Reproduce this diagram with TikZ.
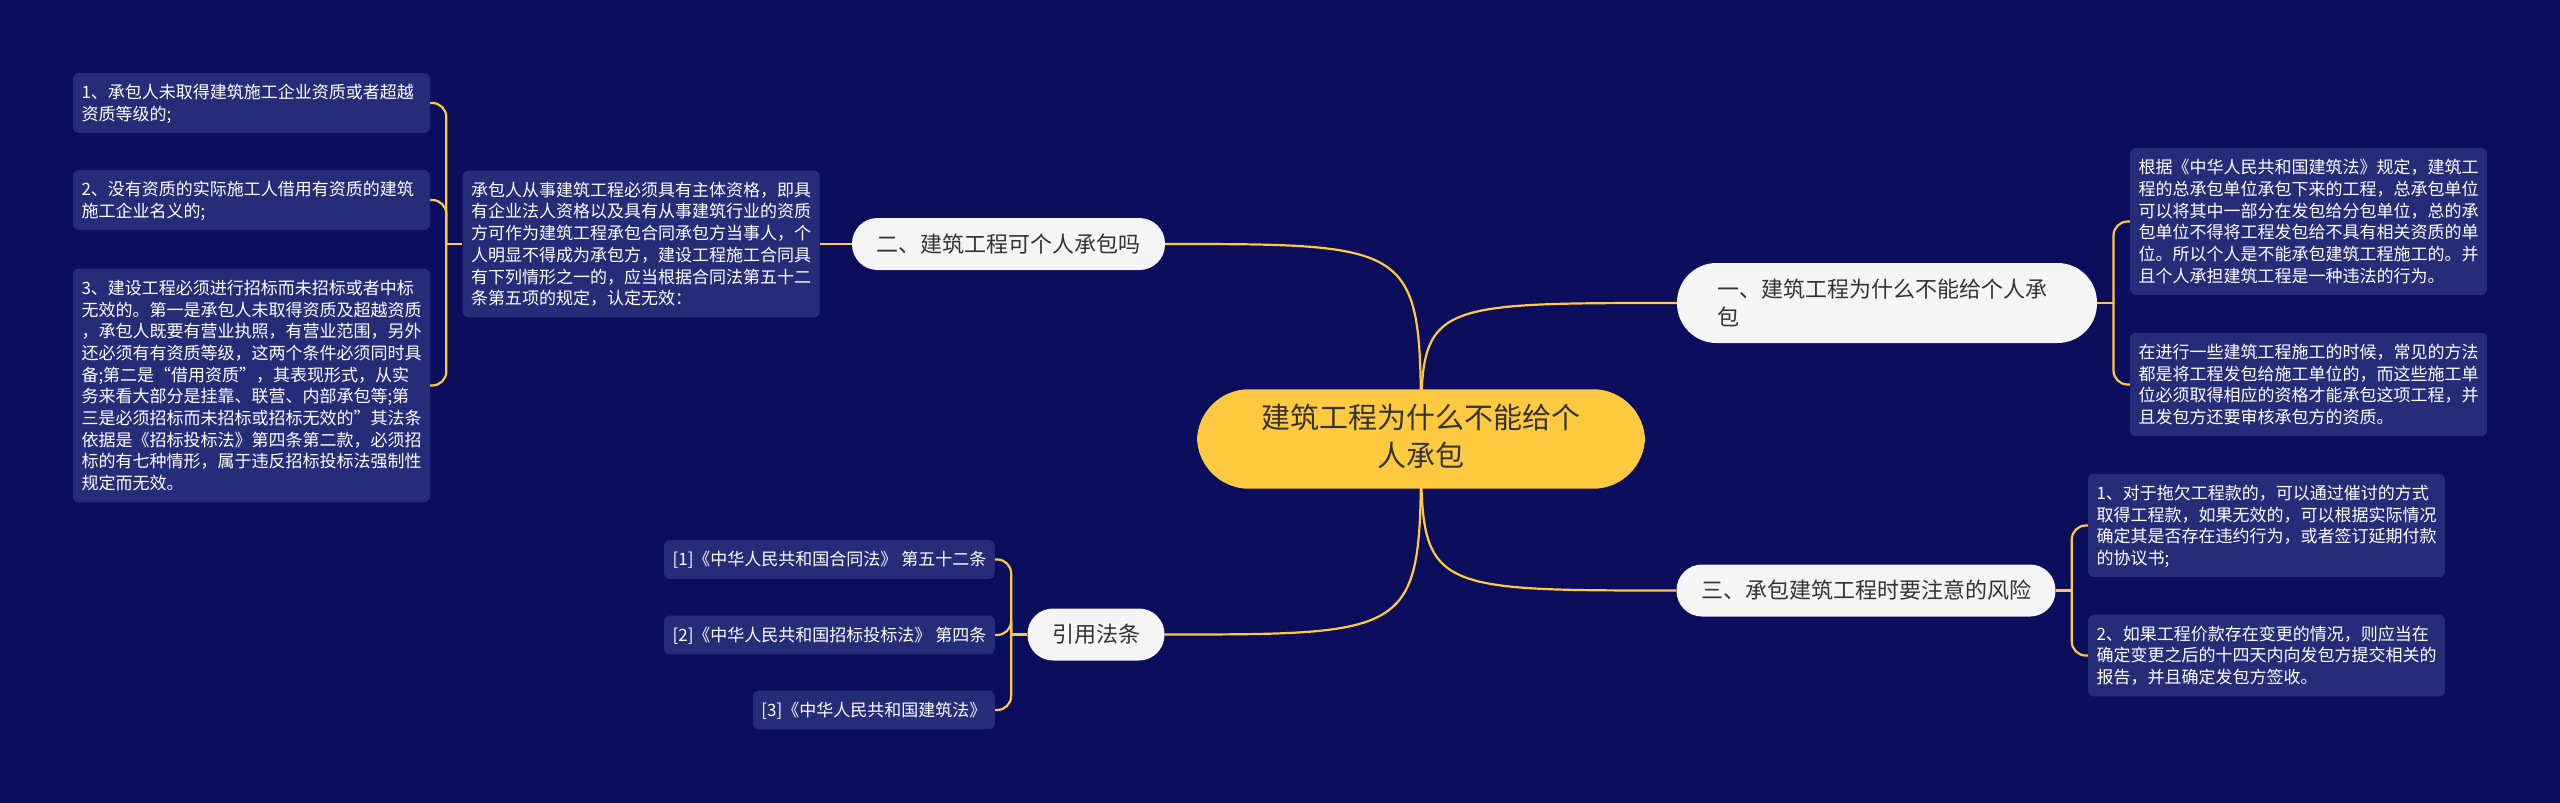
\documentclass[tikz,border=0pt]{standalone}
\usepackage{fontspec}
\setmainfont{Noto Sans CJK SC}
\usetikzlibrary{positioning, calc, backgrounds}
\definecolor{navy}{HTML}{0B0E5C}
\definecolor{leafbg}{HTML}{262D78}
\definecolor{gold}{HTML}{FFC940}
\definecolor{ink}{HTML}{333333}
\definecolor{paper}{HTML}{F5F5F5}
\newcommand\emstrut{\vrule height \dimexpr(\baselineskip+0.76em)/2\relax
  depth \dimexpr(\baselineskip-0.76em)/2\relax width 0pt}

\begin{document}
\begin{tikzpicture}[x=1pt, y=-1pt,
  every node/.style={inner sep=0pt, execute at begin node=\emstrut, execute at end node=\emstrut},
  root/.style={fill=gold, text=ink, rounded corners=52pt, align=center,
               font=\fontsize{29}{38}\selectfont, inner xsep=64.5pt, inner ysep=14.5pt},
  topic/.style={fill=paper, text=ink, rounded corners=25.5pt, align=left,
                font=\fontsize{22}{28}\selectfont, inner xsep=24.5pt, inner ysep=12pt},
  leaf/.style={fill=leafbg, text=white, rounded corners=6pt, align=left,
               text width=340pt, font=\fontsize{17}{21.7}\selectfont,
               inner xsep=8.5pt, inner ysep=8.3pt},
  cite/.style={fill=leafbg, text=white, rounded corners=6pt, anchor=east,
               font=\fontsize{17}{21.7}\selectfont, inner xsep=8.5pt, inner ysep=8.6pt},
  link/.style={gold, line width=2.2pt},
  branch/.style={link, rounded corners=14pt}]

\node[root] (root) at (1421,439) {建筑工程为什么不能给个\\人承包};

\node[topic, text width=340pt, inner xsep=40pt, rounded corners=39.5pt] (one) at (1887,303)
  {一、建筑工程为什么不能给个人承\\包};
\node[topic] (two) at (1008.5,244) {二、建筑工程可个人承包吗};
\node[topic] (three) at (1866,590.5) {三、承包建筑工程时要注意的风险};
\node[topic] (laws) at (1096,634.5) {引用法条};

\node[leaf, left=32pt of two] (mid)
  {承包人从事建筑工程必须具有主体资格，即具\\
   有企业法人资格以及具有从事建筑行业的资质\\
   方可作为建筑工程承包合同承包方当事人，个\\
   人明显不得成为承包方，建设工程施工合同具\\
   有下列情形之一的，应当根据合同法第五十二\\
   条第五项的规定，认定无效：};

\node[leaf] (l1) at (251.5,103)
  {1、承包人未取得建筑施工企业资质或者超越\\资质等级的;};
\node[leaf] (l2) at (251.5,200)
  {2、没有资质的实际施工人借用有资质的建筑\\施工企业名义的;};
\node[leaf] (l3) at (251.5,385.5)
  {3、建设工程必须进行招标而未招标或者中标\\
   无效的。第一是承包人未取得资质及超越资质\\
   ，承包人既要有营业执照，有营业范围，另外\\
   还必须有有资质等级，这两个条件必须同时具\\
   备;第二是“借用资质”，其表现形式，从实\\
   务来看大部分是挂靠、联营、内部承包等;第\\
   三是必须招标而未招标或招标无效的”其法条\\
   依据是《招标投标法》第四条第二款，必须招\\
   标的有七种情形，属于违反招标投标法强制性\\
   规定而无效。};

\node[leaf] (r1) at (2308.5,221.5)
  {根据《中华人民共和国建筑法》规定，建筑工\\
   程的总承包单位承包下来的工程，总承包单位\\
   可以将其中一部分在发包给分包单位，总的承\\
   包单位不得将工程发包给不具有相关资质的单\\
   位。所以个人是不能承包建筑工程施工的。并\\
   且个人承担建筑工程是一种违法的行为。};
\node[leaf] (r2) at (2308.5,384.5)
  {在进行一些建筑工程施工的时候，常见的方法\\
   都是将工程发包给施工单位的，而这些施工单\\
   位必须取得相应的资格才能承包这项工程，并\\
   且发包方还要审核承包方的资质。};

\node[leaf] (r3) at (2266.5,525.5)
  {1、对于拖欠工程款的，可以通过催讨的方式\\
   取得工程款，如果无效的，可以根据实际情况\\
   确定其是否存在违约行为，或者签订延期付款\\
   的协议书;};
\node[leaf] (r4) at (2266.5,655.5)
  {2、如果工程价款存在变更的情况，则应当在\\
   确定变更之后的十四天内向发包方提交相关的\\
   报告，并且确定发包方签收。};

\node[cite] (c1) at (995,559.5) {[1]《中华人民共和国合同法》 第五十二条};
\node[cite] (c2) at (995,635) {[2]《中华人民共和国招标投标法》 第四条};
\node[cite] (c3) at (995,710) {[3]《中华人民共和国建筑法》};

\begin{pgfonlayer}{background}
  \fill[navy] (0,0) rectangle (2560,803);
  \draw[link] (root.center) .. controls (root.center |- two.east) .. (two.east);
  \draw[link] (root.center) .. controls (root.center |- one.west) .. (one.west);
  \draw[link] (root.center) .. controls (root.center |- three.west) .. (three.west);
  \draw[link] (root.center) .. controls (root.center |- laws.east) .. (laws.east);
  \draw[link] (two.west) -- (mid.east);

  \coordinate (j1) at ($(one.east)!.5!(r1.west |- one.east)$);
  \draw[link] (one.east) -- (j1);
  \foreach \n in {r1, r2} \draw[branch] (j1) |- (\n.west);

  \coordinate (j2) at ($(three.east)!.5!(r3.west |- three.east)$);
  \draw[link] (three.east) -- (j2);
  \foreach \n in {r3, r4} \draw[branch] (j2) |- (\n.west);

  \coordinate (j3) at ($(mid.west)!.5!(l1.east |- mid.west)$);
  \draw[link] (mid.west) -- (j3);
  \foreach \n in {l1, l2, l3} \draw[branch] (j3) |- (\n.east);

  \coordinate (j4) at ($(laws.west)!.5!(c1.east |- laws.west)$);
  \draw[link] (laws.west) -- (j4);
  \foreach \n in {c1, c2, c3} \draw[branch] (j4) |- (\n.east);
\end{pgfonlayer}
\end{tikzpicture}
\end{document}
